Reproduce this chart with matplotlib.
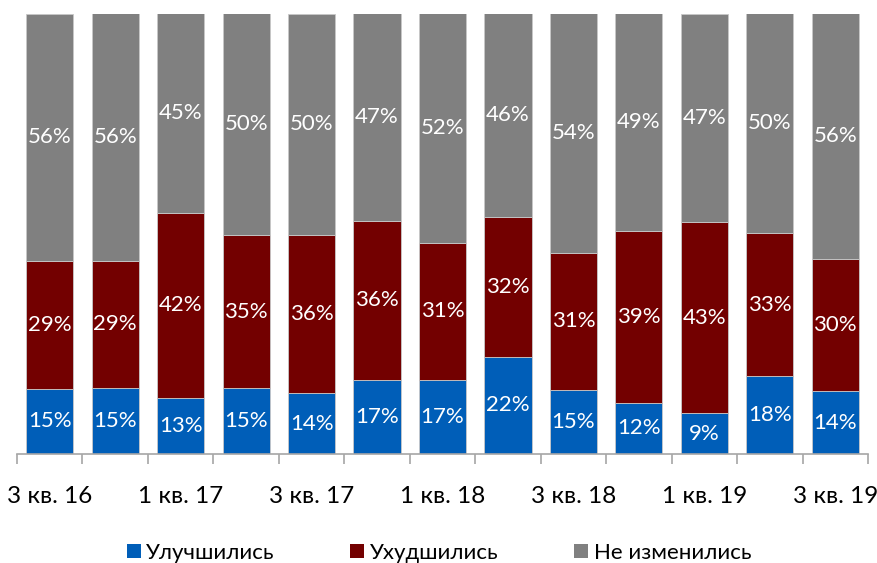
import matplotlib
matplotlib.use('Agg')
import matplotlib.pyplot as plt
import numpy as np
from matplotlib.patches import Patch

plt.rcParams['font.family'] = ['Lato', 'DejaVu Sans']

periods = ['3 кв. 16', '4 кв. 16', '1 кв. 17', '2 кв. 17', '3 кв. 17', '4 кв. 17',
           '1 кв. 18', '2 кв. 18', '3 кв. 18', '4 кв. 18', '1 кв. 19', '2 кв. 19',
           '3 кв. 19']
improved = [14.8, 15.0, 12.8, 14.9, 13.8, 16.8, 16.8, 22.1, 14.6, 11.6, 9.2, 17.6, 14.3]
worsened = [29.0, 28.9, 42.0, 34.8, 35.9, 36.1, 31.1, 31.8, 31.0, 39.1, 43.4, 32.6, 30.0]
unchanged = [56.2, 56.1, 45.2, 50.3, 50.3, 47.1, 52.1, 46.1, 54.4, 49.3, 47.4, 49.8, 55.7]
series_names = ['Улучшились', 'Ухудшились', 'Не изменились']
colors = ['#005EB8', '#730000', '#808080']

fig = plt.figure(figsize=(8.78, 5.63), dpi=100)
ax = fig.add_axes([17 / 878, 109 / 563, 851 / 878, 440.5 / 563])

x = np.arange(len(periods))
bottom = np.zeros(len(periods))
for vals, name, col in zip([improved, worsened, unchanged], series_names, colors):
    vals = np.array(vals)
    ax.bar(x, vals, bottom=bottom, width=0.72, color=col, edgecolor='#C8C8C8',
           linewidth=0.6, label=name)
    for xi, b, v in zip(x, bottom, vals):
        ax.text(xi, b + v / 2, f'{v:.0f}%', ha='center', va='center',
                color='white', fontsize=16)
    bottom += vals

ax.set_xlim(-0.5, len(periods) - 0.5)
ax.set_ylim(0, 100)
ax.set_yticks([])
for s in ['top', 'right', 'left']:
    ax.spines[s].set_visible(False)
ax.spines['bottom'].set_color('#A6A6A6')
ax.spines['bottom'].set_linewidth(1.2)

ax.set_xticks(x[::2])
ax.set_xticklabels(periods[::2], fontsize=17.5)
ax.set_xticks(np.arange(-0.5, len(periods)), minor=True)
ax.tick_params(axis='x', which='major', length=0, pad=23)
ax.tick_params(axis='x', which='minor', length=7, width=1.2, color='#A6A6A6')

handles = [Patch(facecolor=c, label=n) for c, n in zip(colors, series_names)]
fig.legend(handles=handles, loc='center', bbox_to_anchor=(0.5, 1 - 553 / 563),
           ncol=3, frameon=False, fontsize=16, handlelength=0.63, handleheight=0.63,
           handletextpad=0.25, columnspacing=3.4)

fig.savefig('out.png', dpi=100)
